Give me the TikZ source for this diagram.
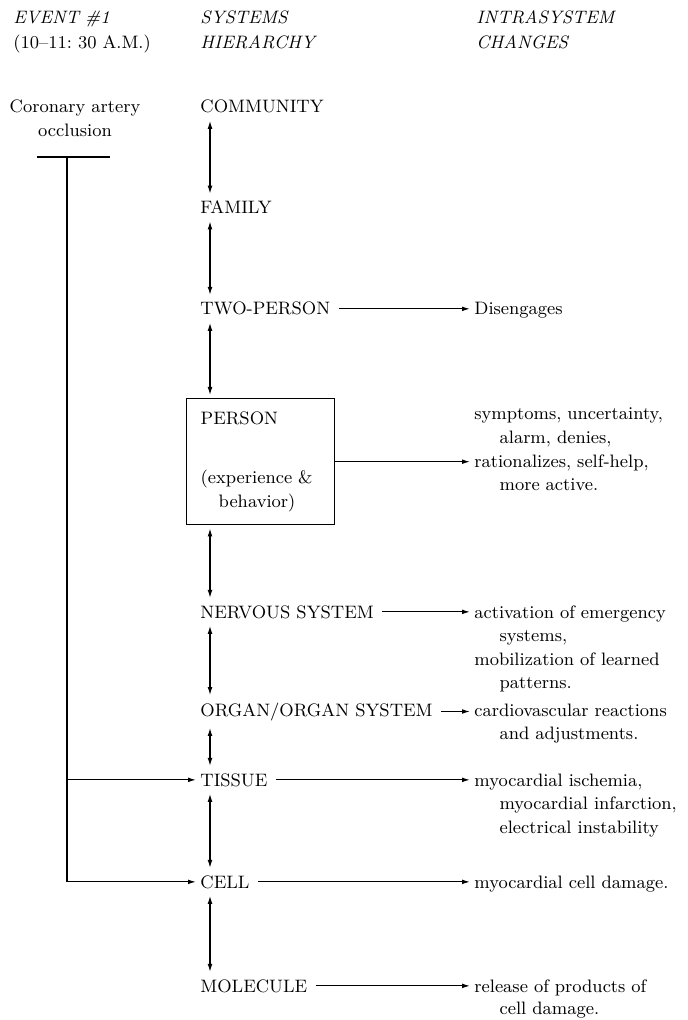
\documentclass[tikz,border=0pt]{standalone}
\usepackage{tikz}
\usetikzlibrary{arrows.meta,positioning}
\newcommand{\figfont}{\fontsize{9}{11.8}\selectfont}
\tikzset{
  level/.style={inner sep=2pt, anchor=base west, font=\figfont},
  effect/.style={inner sep=2pt, anchor=base west, text width=104pt, align=left, font=\figfont},
  head/.style={inner sep=2pt, anchor=base west, text width=84pt, align=left, font=\figfont\itshape},
  personbox/.style={draw, line width=0.7pt, anchor=north west, text width=60pt, align=left,
                    minimum height=63pt, inner xsep=7pt, inner ysep=0pt, font=\figfont},
  arrow/.style={-{Latex[length=4pt,width=2.4pt]}, line width=0.6pt},
  biarrow/.style={{Latex[length=4pt,width=2.4pt]}-{Latex[length=4pt,width=2.4pt]}, line width=0.6pt,
                  shorten <=1.5pt, shorten >=1.5pt},
  wire/.style={line width=0.6pt},
}
\begin{document}
\begin{tikzpicture}[x=0.5pt, y=-0.5pt]
\useasboundingbox (0,0) rectangle (688,1020);
% column heads
\node[head] (hev) at (9,24) {EVENT \#1\\[0.7pt]\upshape (10--11:\ 30 A.M.)};
\node[head] (hsys) at (196,24) {SYSTEMS\\[0.7pt]HIERARCHY};
\node[head] (hchg) at (472,24) {INTRASYSTEM\\[0.7pt]CHANGES};

% the event
\node[font=\figfont, align=center, anchor=base, text width=76pt, inner sep=2pt] (occl) at (75,113) {Coronary artery\\occlusion};
\coordinate (barL) at (37,157);
\coordinate (barR) at (110,157);
\coordinate (trunk) at (67,157);
\coordinate (spine) at (210,0);

% systems hierarchy
\node[level] (comm) at (196,113) {COMMUNITY};
\node[level] (fam) at (196,214) {FAMILY};
\node[level] (twop) at (196,315) {TWO-PERSON};
\node[personbox] (pers) at (186,398) {PERSON\\[18pt](experience \&\\\hspace*{1em}behavior)};
\node[level] (nerv) at (196,618) {NERVOUS SYSTEM};
\node[level] (organ) at (196,716) {ORGAN/ORGAN SYSTEM};
\node[level] (tissue) at (196,786) {TISSUE};
\node[level] (cell) at (196,888) {CELL};
\node[level] (mol) at (196,992) {MOLECULE};

% intrasystem changes
\node[effect] (dis) at (470,315) {Disengages};
\node[effect] (symp) at (470,420) {symptoms, uncertainty,\\\hspace*{1.4em}alarm, denies,\\rationalizes, self-help,\\\hspace*{1.4em}more active.};
\node[effect] (act) at (470,618) {activation of emergency\\\hspace*{1.4em}systems,\\mobilization of learned\\\hspace*{1.4em}patterns.};
\node[effect] (card) at (470,716) {cardiovascular reactions\\\hspace*{1.4em}and adjustments.};
\node[effect] (isch) at (470,786) {myocardial ischemia,\\\hspace*{1.4em}myocardial infarction,\\\hspace*{1.4em}electrical instability};
\node[effect] (dmg) at (470,888) {myocardial cell damage.};
\node[effect] (rel) at (470,992) {release of products of\\[-0.6pt]\hspace*{1.4em}cell damage.};

\foreach \a/\b in {comm/fam, fam/twop, twop/pers, pers/nerv, nerv/organ, organ/tissue, tissue/cell, cell/mol}
  \draw[biarrow] (\a.south -| spine) -- (\b.north -| spine);
\foreach \a/\b in {twop/dis, nerv/act, organ/card, tissue/isch, cell/dmg, mol/rel}
  \draw[arrow, shorten <=2pt] (\a.east) -- (\a.east -| \b.west);
\draw[arrow] (pers.east) -- (pers.east -| symp.west);

% occlusion acts on tissue and cell
\draw[wire] (barL) -- (barR);
\draw[arrow] (trunk) |- (cell.west);
\draw[arrow] (trunk |- tissue.west) -- (tissue.west);
\end{tikzpicture}
\end{document}
